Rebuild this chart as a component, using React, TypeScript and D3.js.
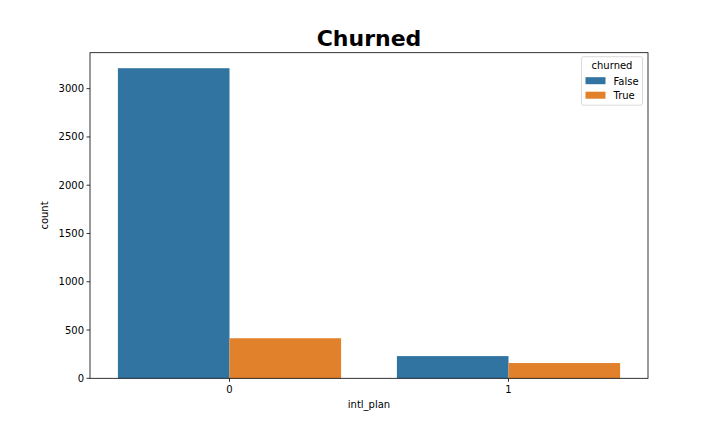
import React from 'react';
import * as d3 from 'd3';

const categories = ['0', '1'];
const hues = ['False', 'True'];
const falseCounts = [3212, 230];
const trueCounts = [415, 158];
const yTicks = [0, 500, 1000, 1500, 2000, 2500, 3000];
const colors = ['#3274a1', '#e1812c'];

const W = 720;
const H = 432;
const margin = { top: 52.7, right: 72, bottom: 53.7, left: 90 };

export default function App() {
  const plotW = W - margin.left - margin.right;
  const plotH = H - margin.top - margin.bottom;
  const maxVal = d3.max([...falseCounts, ...trueCounts]) || 0;

  const x = d3.scaleBand().domain(categories).range([0, plotW]).paddingInner(0.2).paddingOuter(0.1);
  const xHue = d3.scaleBand().domain(hues).range([0, x.bandwidth()]);
  const y = d3.scaleLinear().domain([0, maxVal * 1.05]).range([plotH, 0]);

  const series = [falseCounts, trueCounts];
  const font = 'DejaVu Sans, sans-serif';

  return (
    <svg width={W} height={H} style={{ position: 'absolute', left: 0, top: 0, background: '#fff' }} fontFamily={font}>
      <text x={margin.left + plotW / 2} y={46} textAnchor="middle" fontSize={22} fontWeight="bold" fill="#000">
        Churned
      </text>
      <g transform={`translate(${margin.left},${margin.top})`}>
        {categories.map((c, i) =>
          hues.map((h, j) => (
            <rect
              key={c + h}
              x={(x(c) || 0) + (xHue(h) || 0)}
              y={y(series[j][i])}
              width={xHue.bandwidth()}
              height={plotH - y(series[j][i])}
              fill={colors[j]}
            />
          ))
        )}
        {/* y axis */}
        {yTicks.map(t => (
          <g key={t} transform={`translate(0,${y(t)})`}>
            <line x1={-3.5} x2={0} stroke="#000" strokeWidth={0.8} />
            <text x={-6} dy="0.35em" textAnchor="end" fontSize={10} fill="#000">{t}</text>
          </g>
        ))}
        {/* x axis */}
        {categories.map(c => (
          <g key={c} transform={`translate(${(x(c) || 0) + x.bandwidth() / 2},${plotH})`}>
            <line y1={0} y2={3.5} stroke="#000" strokeWidth={0.8} />
            <text y={15} textAnchor="middle" fontSize={10} fill="#000">{c}</text>
          </g>
        ))}
        <rect x={0} y={0} width={plotW} height={plotH} fill="none" stroke="#000" strokeWidth={0.8} />
        <text x={plotW / 2} y={plotH + 30} textAnchor="middle" fontSize={10} fill="#000">intl_plan</text>
        <text transform={`translate(${-42},${plotH / 2}) rotate(-90)`} textAnchor="middle" fontSize={10} fill="#000">count</text>
        {/* legend */}
        <g transform={`translate(${plotW - 66.5},4)`}>
          <rect x={0} y={0} width={61} height={48.5} rx={2} fill="#fff" stroke="#ccc" strokeWidth={0.8} opacity={0.9} />
          <text x={30.5} y={12.5} textAnchor="middle" fontSize={10} fill="#000">churned</text>
          {hues.map((h, j) => (
            <g key={h} transform={`translate(4,${20.5 + j * 14.5})`}>
              <rect x={0} y={0} width={20} height={7} fill={colors[j]} />
              <text x={28} y={7.5} fontSize={10} fill="#000">{h}</text>
            </g>
          ))}
        </g>
      </g>
    </svg>
  );
}
